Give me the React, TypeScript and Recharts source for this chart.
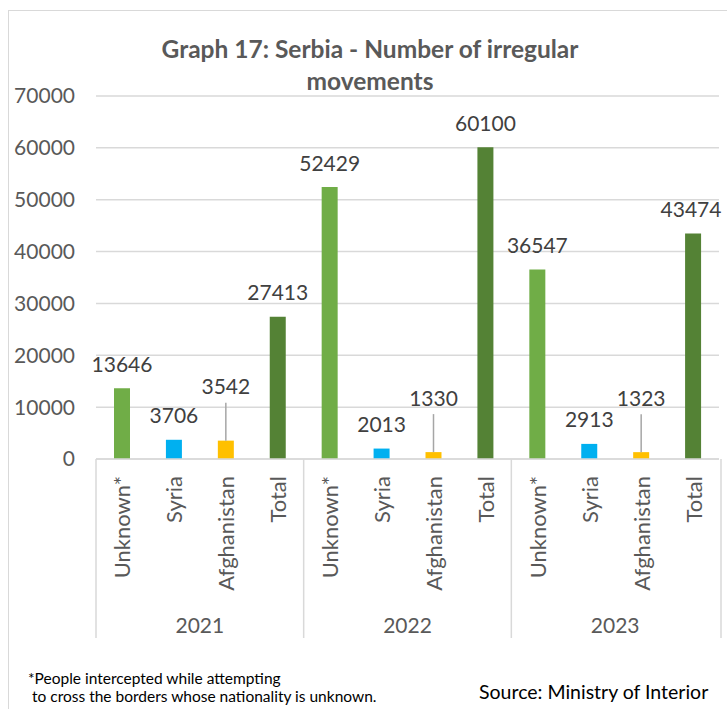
import React from 'react';
import { BarChart, Bar, XAxis, YAxis, CartesianGrid, Cell, LabelList } from 'recharts';

const years = ['2021', '2022', '2023'];
const categories = ['Unknown*', 'Syria', 'Afghanistan', 'Total'];
const values2021 = [13646, 3706, 3542, 27413];
const values2022 = [52429, 2013, 1330, 60100];
const values2023 = [36547, 2913, 1323, 43474];
const yTicks = [0, 10000, 20000, 30000, 40000, 50000, 60000, 70000];
const categoryColors = ['#70AD47', '#00B0F0', '#FFC000', '#548235'];

const valuesByYear = [values2021, values2022, values2023];

const data = years.flatMap((year, yi) =>
  categories.map((category, ci) => ({
    key: `${year}-${category}`,
    year,
    category,
    value: valuesByYear[yi][ci],
  }))
);

const FONT = 'Lato, "Open Sans", sans-serif';
const W = 727;
const H = 709;
const PLOT_LEFT = 96;
const PLOT_RIGHT = 719;
const BAND = (PLOT_RIGHT - PLOT_LEFT) / data.length;

const CategoryTick = (props: any) => {
  const { x, payload, index } = props;
  const axisY = 459;
  const row = data[index];
  const parts: React.ReactNode[] = [];
  if (index % 4 === 0) {
    const left = x - BAND / 2;
    parts.push(<line key="sep" x1={left} y1={axisY} x2={left} y2={638} stroke="#d9d9d9" strokeWidth={1.5} />);
    parts.push(
      <text key="yr" x={left + BAND * 2} y={624} textAnchor="middle" dominantBaseline="central"
        fill="#595959" fontSize={21} fontFamily={FONT}>
        {row.year}
      </text>
    );
  }
  if (index === data.length - 1) {
    const right = x + BAND / 2 + 2;
    parts.push(<line key="end" x1={right} y1={axisY} x2={right} y2={638} stroke="#d9d9d9" strokeWidth={1.5} />);
  }
  return (
    <g>
      {parts}
      <text x={x} y={476} transform={`rotate(-90, ${x}, 476)`} textAnchor="end" dominantBaseline="central"
        fill="#595959" fontSize={22} fontFamily={FONT}>
        {row ? row.category : payload.value}
      </text>
    </g>
  );
};

const ValueLabel = (props: any) => {
  const { x, y, width, value, index } = props;
  const cx = x + width / 2;
  const isAfghan = index % 4 === 2;
  let labelY = y - 25;
  let lx = cx;
  if (isAfghan) labelY = y - 25 - 30;
  if (lx + 30 > W - 6) lx = W - 6 - 30;
  return (
    <g>
      {isAfghan && <line x1={cx} y1={labelY + 17} x2={cx} y2={y} stroke="#a6a6a6" strokeWidth={1.5} />}
      <text x={lx} y={labelY} textAnchor="middle" dominantBaseline="central"
        fill="#404040" fontSize={21} fontFamily={FONT}>
        {value}
      </text>
    </g>
  );
};

export default function App() {
  return (
    <div style={{ position: 'absolute', left: 0, top: 0, width: W, height: H, background: '#fff', overflow: 'hidden' }}>
      <div style={{ position: 'absolute', left: 8, top: 10, width: W, height: H, border: '1.5px solid #d9d9d9', boxSizing: 'border-box' }} />
      <div style={{ position: 'absolute', left: 0, top: 33, width: 740, textAlign: 'center', fontFamily: FONT, fontWeight: 700, fontSize: 24.5, lineHeight: '32px', color: '#595959' }}>
        Graph 17: Serbia - Number of irregular<br />movements
      </div>
      <div style={{ position: 'absolute', left: 0, top: 0 }}>
        <BarChart width={W} height={H} data={data} margin={{ top: 96, right: W - PLOT_RIGHT, bottom: 0, left: 8 }} barSize={16}>
          <CartesianGrid vertical={false} stroke="#d9d9d9" strokeWidth={1.5} />
          <XAxis dataKey="key" height={250} interval={0} tickLine={false} axisLine={{ stroke: '#d9d9d9', strokeWidth: 1.5 }}
            tick={<CategoryTick />} />
          <YAxis width={88} domain={[0, 70000]} ticks={yTicks} axisLine={false} tickLine={false} tickMargin={15}
            tick={{ fill: '#595959', fontSize: 21, fontFamily: FONT }} />
          <Bar dataKey="value" isAnimationActive={false}>
            {data.map((d, i) => (
              <Cell key={d.key} fill={categoryColors[i % 4]} />
            ))}
            <LabelList dataKey="value" content={<ValueLabel />} />
          </Bar>
        </BarChart>
      </div>
      <div style={{ position: 'absolute', left: 28, top: 669, fontFamily: FONT, fontSize: 15.5, lineHeight: '18px', color: '#000' }}>
        *People intercepted while attempting<br />&nbsp;to cross the borders whose nationality is unknown.
      </div>
      <div style={{ position: 'absolute', left: 479, top: 680, fontFamily: FONT, fontSize: 19.5, color: '#000' }}>
        Source: Ministry of Interior
      </div>
    </div>
  );
}
